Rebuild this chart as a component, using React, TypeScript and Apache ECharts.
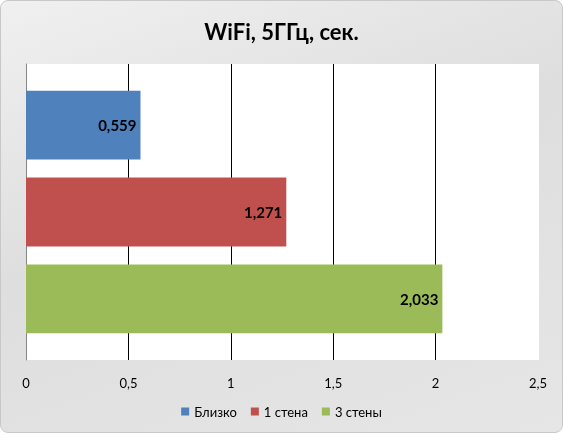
import React, { useEffect, useRef } from 'react';
import * as echarts from 'echarts';

// Данные диаграммы
const seriesNames = ['Близко', '1 стена', '3 стены'];
const seriesValues = [0.559, 1.271, 2.033];
const seriesColors = ['#4F81BD', '#C0504D', '#9BBB59'];
const axisTicks = [0, 0.5, 1, 1.5, 2, 2.5];

const fmt = (v: number) => String(v).replace('.', ',');

const App = () => {
    const chartRef = useRef(null);

    useEffect(() => {
        const chart = echarts.init(chartRef.current, null, { renderer: 'svg' });
        const font = 'Lato, "Open Sans", sans-serif';

        // сетка: у последней линии (2,5) цвет фона, т.е. её не видно
        const gridColors = axisTicks.map((_, i) =>
            i === 0 ? '#868686' : i === axisTicks.length - 1 ? '#ffffff' : '#000000'
        );

        const options = {
            animation: false,
            title: {
                text: 'WiFi, 5ГГц, сек.',
                left: 'center',
                top: 14,
                textStyle: { fontFamily: font, fontSize: 22, fontWeight: 'bold', color: '#000' }
            },
            legend: {
                bottom: 9,
                itemWidth: 8,
                itemHeight: 8,
                itemGap: 14,
                icon: 'rect',
                textStyle: { fontFamily: font, fontSize: 13, color: '#000' },
                data: seriesNames
            },
            grid: {
                left: 25,
                right: 24,
                top: 63,
                bottom: 72,
                show: true,
                backgroundColor: '#fff',
                borderWidth: 0
            },
            xAxis: {
                type: 'value',
                min: axisTicks[0],
                max: axisTicks[axisTicks.length - 1],
                interval: 0.5,
                axisLine: { show: false },
                axisTick: { show: false },
                splitLine: { lineStyle: { color: gridColors, width: 1 } },
                axisLabel: {
                    margin: 16,
                    fontFamily: font,
                    fontSize: 13,
                    color: '#000',
                    formatter: (v: number) => fmt(v)
                }
            },
            yAxis: {
                type: 'category',
                inverse: true,
                data: [''],
                axisLine: { lineStyle: { color: '#868686' } },
                axisTick: { show: false },
                axisLabel: { show: false }
            },
            series: seriesNames.map((name, i) => ({
                name,
                type: 'bar',
                data: [seriesValues[i]],
                barCategoryGap: '18%',
                barGap: '26%',
                itemStyle: { color: seriesColors[i] },
                label: {
                    show: true,
                    position: 'insideRight',
                    distance: 4,
                    fontFamily: font,
                    fontSize: 15,
                    fontWeight: 'bold',
                    color: '#000',
                    formatter: (p: any) => fmt(p.value)
                }
            }))
        };

        chart.setOption(options);

        return () => {
            chart.dispose();
        };
    }, []);

    return (
        <div
            style={{
                position: 'fixed',
                left: 0,
                top: 0,
                width: 563,
                height: 433,
                boxSizing: 'border-box',
                border: '1px solid #c8c8c8',
                borderRadius: 8,
                background: 'linear-gradient(160deg, #f0f0f0 0%, #dedede 45%, #e6e6e6 100%)'
            }}
        >
            <div ref={chartRef} style={{ width: 561, height: 431 }}></div>
        </div>
    );
};

export default App;
